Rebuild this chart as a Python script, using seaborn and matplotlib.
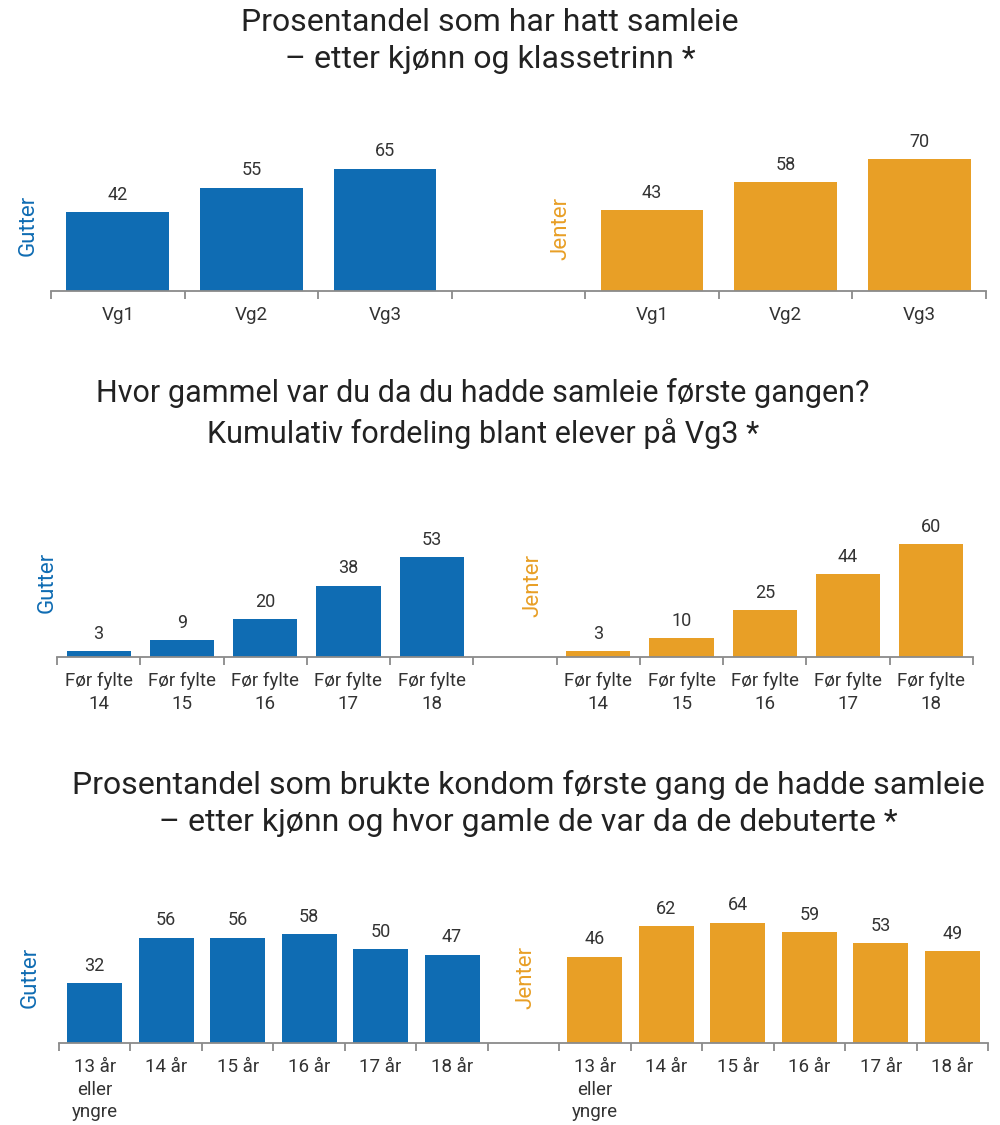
import numpy as np
import pandas as pd
import matplotlib
matplotlib.use("Agg")
import matplotlib.pyplot as plt
import seaborn as sns

sns.set_theme(style="white")
plt.rcParams['font.family'] = ['Roboto', 'DejaVu Sans']

BLUE = "#0F6CB3"
ORANGE = "#E89F26"
TXT = "#333333"
AXC = "#8a8a8a"

# ---- data ----
p1_title = "Prosentandel som har hatt samleie\n– etter kjønn og klassetrinn *"
p1_cats = ["Vg1", "Vg2", "Vg3"]
p1_gutter = [42, 55, 65]
p1_jenter = [43, 58, 70]

p2_title = "Hvor gammel var du da du hadde samleie første gangen?\nKumulativ fordeling blant elever på Vg3 *"
p2_cats = ["Før fylte\n14", "Før fylte\n15", "Før fylte\n16", "Før fylte\n17", "Før fylte\n18"]
p2_gutter = [3, 9, 20, 38, 53]
p2_jenter = [3, 10, 25, 44, 60]

p3_title = "Prosentandel som brukte kondom første gang de hadde samleie\n– etter kjønn og hvor gamle de var da de debuterte *"
p3_cats = ["13 år\neller\nyngre", "14 år", "15 år", "16 år", "17 år", "18 år"]
p3_gutter = [32, 56, 56, 58, 50, 47]
p3_jenter = [46, 62, 64, 59, 53, 49]

groups = ["Gutter", "Jenter"]

W, H = 1000, 1125
fig = plt.figure(figsize=(W / 100, H / 100), dpi=100)
PX_PER_UNIT = 1.88
AX_H = 170


def panel(left, right, baseline, cats, gut, jen, glab_pos, jlab_pos):
    n = len(cats)
    pos = list(range(n)) + list(range(n + 1, 2 * n + 1))
    df = pd.DataFrame({
        "pos": pos,
        "val": list(gut) + list(jen),
        "kjonn": [groups[0]] * n + [groups[1]] * n,
    })
    ax = fig.add_axes([left / W, (H - baseline) / H, (right - left) / W, AX_H / H])
    sns.barplot(data=df, x="pos", y="val", hue="kjonn", native_scale=True,
                palette={"Gutter": BLUE, "Jenter": ORANGE}, width=0.77,
                dodge=False, legend=False, saturation=1, ax=ax, linewidth=0)
    ax.set_xlim(-0.5, 2 * n + 0.5)
    ax.set_ylim(0, AX_H / PX_PER_UNIT)
    for c in ax.containers:
        ax.bar_label(c, fmt="%d", padding=6, fontsize=13, color=TXT)
    for s in ["top", "left", "right"]:
        ax.spines[s].set_visible(False)
    ax.spines["bottom"].set_color(AXC)
    ax.spines["bottom"].set_linewidth(1.3)
    ax.set_yticks([])
    ax.set_xlabel("")
    ax.set_ylabel("")
    ax.set_xticks(np.arange(-0.5, 2 * n + 1, 1.0))
    ax.set_xticklabels([])
    ax.set_xticks(pos, list(cats) + list(cats), minor=True)
    ax.tick_params(axis="x", which="major", length=6, width=1.3, color=AXC,
                   direction="out", bottom=True)
    ax.tick_params(axis="x", which="minor", length=0, pad=11, labelsize=13.5,
                   labelcolor=TXT, bottom=True)
    for t in ax.get_xticklabels(minor=True):
        t.set_linespacing(1.32)
    ax.patch.set_alpha(0)
    fig.text(glab_pos[0] / W, 1 - glab_pos[1] / H, "Gutter", rotation=90,
             ha="center", va="center", color=BLUE, fontsize=16)
    fig.text(jlab_pos[0] / W, 1 - jlab_pos[1] / H, "Jenter", rotation=90,
             ha="center", va="center", color=ORANGE, fontsize=16)
    return ax


panel(51, 986, 291, p1_cats, p1_gutter, p1_jenter, (28, 225), (561, 228))
panel(57, 973, 657, p2_cats, p2_gutter, p2_jenter, (47, 582), (533, 585))
panel(59, 988, 1043, p3_cats, p3_gutter, p3_jenter, (30, 977), (526, 977))

fig.text(490 / W, 1 - 41 / H, p1_title, ha="center", va="center", fontsize=23,
         linespacing=1.37, color="#222222")
fig.text(483 / W, 1 - 413.5 / H, p2_title, ha="center", va="center", fontsize=22,
         linespacing=1.37, color="#222222")
fig.text(528 / W, 1 - 803.5 / H, p3_title, ha="center", va="center", fontsize=23,
         linespacing=1.37, color="#222222")

fig.savefig("out.png", dpi=100)
